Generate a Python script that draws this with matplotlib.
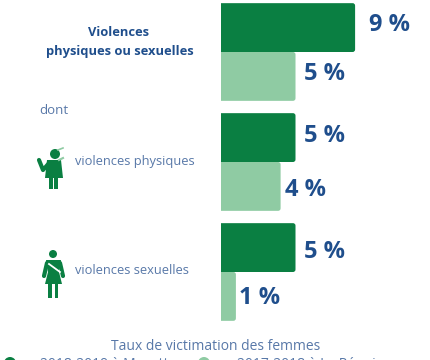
import matplotlib
matplotlib.use("Agg")
import matplotlib.pyplot as plt
from matplotlib.patches import FancyBboxPatch, Circle, Polygon, Rectangle

plt.rcParams['font.family'] = ['Open Sans', 'DejaVu Sans']

# Data
periods = ["2018-2019 à Mayotte", "2017-2018 à La Réunion"]
categories = ["Violences\nphysiques ou sexuelles", "violences physiques", "violences sexuelles"]
values_mayotte = [9, 5, 5]
values_reunion = [5, 4, 1]
title = "Taux de victimation des femmes"

DARK = "#0a7f42"
LIGHT = "#8fcba3"
BLUE = "#1f4e8c"
SOFT_BLUE = "#5878a8"

fig = plt.figure(figsize=(4.3, 3.6), dpi=100)

# Overlay in pixel coordinates for the texts and icons
over = fig.add_axes([0, 0, 1, 1])
over.set_xlim(0, 430)
over.set_ylim(360, 0)
over.axis('off')

# Bars: the axes start at pixel x=221, one percent is 14.9 px
ax = fig.add_axes([221 / 430, 0, 209 / 430, 1])
ax.set_xlim(0, 209 / 14.9)
ax.set_ylim(308 / 110, -52 / 110)
ax.axis('off')
ax.patch.set_visible(False)


# Round the right corners, the left side is cut by the axes
def round_bars(bars, color):
    for bar in bars:
        bar.set_visible(False)
        (x0, y0), (x1, y1) = ax.transData.transform(
            [(bar.get_x(), bar.get_y()), (bar.get_x() + bar.get_width(), bar.get_y() + bar.get_height())])
        y0, y1 = min(y0, y1), max(y0, y1)
        p = FancyBboxPatch((x0 - 8, y0 + 2), x1 - x0 + 8 - 2, y1 - y0 - 4,
                           boxstyle="round,pad=2,rounding_size=2.5",
                           fc=color, ec='none', transform=None, zorder=2)
        fig.add_artist(p)
        p.set_clip_path(ax.patch)


rows = range(len(categories))
top = ax.barh([r - 0.222 for r in rows], values_mayotte, height=0.444)
low = ax.barh([r + 0.222 for r in rows], values_reunion, height=0.444)
round_bars(top, DARK)
round_bars(low, LIGHT)

# Value labels, nudged as in the reference
gaps_top = [14, 9, 9]
gaps_low = [9, 4, 3]
nudge_top = [-3, -2, 4]
nudge_low = [-2, 4, 2]
for r in rows:
    for vals, sign, gaps, nudge in [(values_mayotte, -1, gaps_top, nudge_top), (values_reunion, 1, gaps_low, nudge_low)]:
        ax.annotate(f"{vals[r]} %", (vals[r], r + sign * 0.222), xytext=(gaps[r], -nudge[r]),
                    textcoords='offset pixels', va='center', ha='left', fontsize=17,
                    fontweight='bold', color=BLUE, zorder=3)

# Category labels
head = categories[0].split("\n")
over.text(119, 32, head[0], ha='center', va='center', fontsize=9.3, fontweight='bold', color=BLUE)
over.text(120, 51, head[1], ha='center', va='center', fontsize=9.3, fontweight='bold', color=BLUE)
over.text(39, 110, "dont", ha='left', va='center', fontsize=9.5, color=SOFT_BLUE)
over.text(75, 161, categories[1], ha='left', va='center', fontsize=9.3, color=SOFT_BLUE)
over.text(75, 270, categories[2], ha='left', va='center', fontsize=9.3, color=SOFT_BLUE)

# Icon: woman hit on the head
over.add_patch(Circle((55, 154), 5, fc=DARK, ec='none'))
over.add_patch(Polygon([(47, 160), (61, 160), (63, 178), (45, 178)], fc=DARK, ec='none'))
over.add_patch(Rectangle((49, 178), 4, 11, fc=DARK, ec='none'))
over.add_patch(Rectangle((54, 178), 4, 11, fc=DARK, ec='none'))
over.plot([50, 43, 39], [162, 170, 160], color=DARK, lw=3, solid_capstyle='round')
over.plot([59, 63], [160, 158], color=LIGHT, lw=1.5)
over.plot([58, 63], [150, 148], color=LIGHT, lw=1.2)

# Icon: woman grabbed
over.add_patch(Circle((53, 254), 4, fc=DARK, ec='none'))
over.add_patch(Polygon([(46, 260), (61, 260), (59, 272), (62, 284), (45, 284), (48, 272)], fc=DARK, ec='none'))
over.add_patch(Rectangle((48, 284), 3.5, 14, fc=DARK, ec='none'))
over.add_patch(Rectangle((54.5, 284), 3.5, 14, fc=DARK, ec='none'))
over.plot([47, 44], [263, 276], color=DARK, lw=3, solid_capstyle='round')
over.plot([60, 63], [263, 276], color=DARK, lw=3, solid_capstyle='round')
over.plot([49, 60], [264, 272], color='white', lw=1.3)

# Legend, cut by the lower edge as in the reference
over.text(216, 347, title, ha='center', va='center', fontsize=10, color=SOFT_BLUE)
over.add_patch(Circle((10, 363), 6, fc=DARK, ec='none'))
over.add_patch(Circle((204, 363), 6, fc=LIGHT, ec='none'))
over.text(40, 365, periods[0], ha='left', va='center', fontsize=10, color=SOFT_BLUE)
over.text(237, 365, periods[1], ha='left', va='center', fontsize=10, color=SOFT_BLUE)

fig.savefig("out.png", dpi=100)
